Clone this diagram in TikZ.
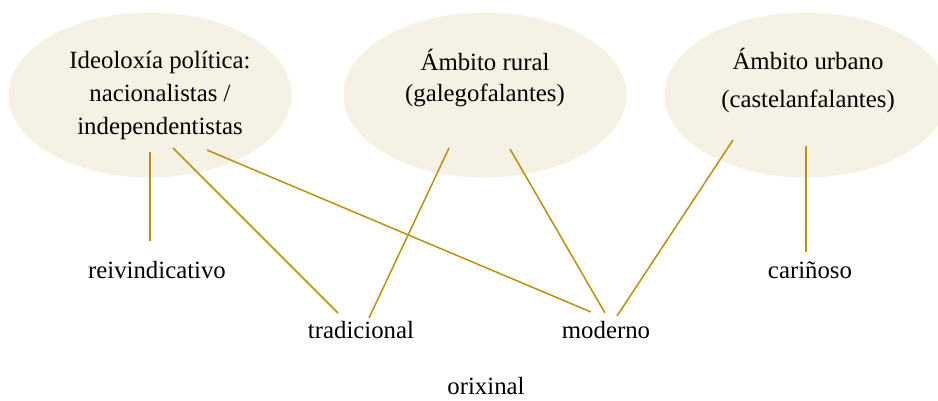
\documentclass[tikz,border=0pt]{standalone}
\usepackage{fontspec}
\setmainfont{Liberation Serif}
\usetikzlibrary{shapes.geometric}
\definecolor{gold}{HTML}{B8920C}
\definecolor{cream}{HTML}{F5F1E4}
\tikzset{
  bubble/.style={ellipse, fill=cream, draw=none, minimum width=283pt, minimum height=165pt, inner sep=0pt},
  txt/.style={anchor=base, inner sep=0pt, font=\fontsize{24.8}{30}\selectfont},
  link/.style={draw=gold, line width=1.5pt}
}
\begin{document}
\begin{tikzpicture}[x=1pt,y=-1pt]
\useasboundingbox (0,0) rectangle (938,400);
\begin{scope}
\clip (0,0) rectangle (938,400);
\node[bubble] (e1) at (150,95) {};
\node[bubble] (e2) at (485,95) {};
\node[bubble] (e3) at (806,95) {};
\end{scope}
% ellipse texts
\node[txt] (t1a) at (160,68) {Ideoloxía política:};
\node[txt] (t1b) at (160,101) {nacionalistas /};
\node[txt] (t1c) at (160,134) {independentistas};
\node[txt] (t2a) at (485,70) {Ámbito rural};
\node[txt] (t2b) at (485,101) {(galegofalantes)};
\node[txt] (t3a) at (808,69) {Ámbito urbano};
\node[txt] (t3b) at (808,107) {(castelanfalantes)};
% leaf words
\node[txt] (reiv) at (157,278) {reivindicativo};
\node[txt] (car) at (810,278) {cariñoso};
\node[txt] (trad) at (361,338) {tradicional};
\node[txt] (mod) at (606,338) {moderno};
\node[txt] (orix) at (486,394) {orixinal};
% connector end points
\coordinate (a1) at (150,152);
\coordinate (a2) at (173,148);
\coordinate (a3) at (207,150);
\coordinate (b1) at (449,148);
\coordinate (b2) at (510,149);
\coordinate (c1) at (733,140);
\coordinate (c2) at (806,146);
\coordinate (reivT) at (150,241);
\coordinate (tradT1) at (338,313);
\coordinate (tradT2) at (369,318);
\coordinate (modT1) at (591,312);
\coordinate (modT2) at (605,313);
\coordinate (modT3) at (617,316);
\coordinate (carT) at (806,252);
\draw[link] (a1) -- (reivT);
\draw[link] (a2) -- (tradT1);
\draw[link] (a3) -- (modT1);
\draw[link] (b1) -- (tradT2);
\draw[link] (b2) -- (modT2);
\draw[link] (c1) -- (modT3);
\draw[link] (c2) -- (carT);
\end{tikzpicture}
\end{document}
